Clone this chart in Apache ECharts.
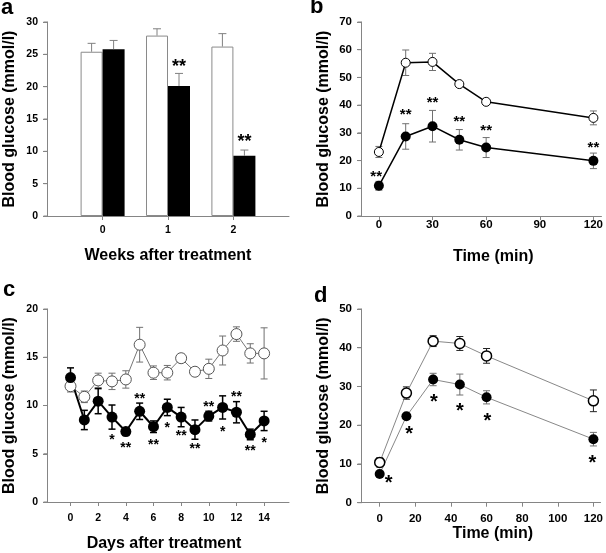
<!DOCTYPE html>
<html>
<head>
<meta charset="utf-8">
<script src="https://cdn.jsdelivr.net/npm/echarts@6/dist/echarts.min.js"></script>
<style>html,body{margin:0;padding:0;background:#fff}#c{width:606px;height:553px}</style>
</head>
<body>
<div id="c"></div>
<script>
// ---------- Panel a: bars ----------
const aWeeks = [0, 1, 2];
const aControl = [25.4, 27.9, 26.2];
const aControlErr = [1.3, 1.05, 2.0];
const aTreated = [25.8, 20.1, 9.3];
const aTreatedErr = [1.35, 1.95, 0.9];
const aStarX = [1.17, 2.17];
const aStarY = [23.6, 12.0];
const aStarText = ['**', '**'];

// ---------- Panel b ----------
const bTime = [0, 15, 30, 45, 60, 120];
const bControl = [23.1, 55.3, 55.6, 47.6, 41.2, 35.4];
const bControlErr = [2.0, 4.6, 3.1, 0, 0, 2.5];
const bTreated = [10.9, 28.7, 32.4, 27.5, 24.7, 19.9];
const bTreatedErr = [1.6, 4.6, 5.7, 3.7, 3.6, 2.8];
const bStarX = [-1.5, 15, 30, 45, 60, 120];
const bStarY = [15.4, 37.6, 42.1, 35.2, 31.9, 25.9];
const bStarText = ['**', '**', '**', '**', '**', '**'];

// ---------- Panel c ----------
const cDays = [0, 1, 2, 3, 4, 5, 6, 7, 8, 9, 10, 11, 12, 13, 14];
const cControl = [12.0, 10.9, 12.6, 12.5, 12.7, 16.3, 13.4, 13.4, 14.9, 13.5, 13.8, 15.7, 17.4, 15.4, 15.4];
const cControlErr = [0.6, 0.6, 0.75, 0.85, 0.9, 1.8, 0.7, 0.75, 0.4, 0.25, 1.0, 1.5, 0.75, 1.0, 2.65];
const cTreated = [12.9, 8.5, 10.45, 8.8, 7.3, 9.4, 7.8, 9.8, 8.8, 7.5, 8.9, 9.8, 9.3, 7.0, 8.4];
const cTreatedErr = [1.0, 1.0, 1.3, 1.25, 0.4, 0.85, 0.6, 0.85, 1.0, 1.0, 0.5, 1.2, 1.1, 0.55, 1.0];
const cStarX = [3, 4, 5, 6, 7, 8, 9, 10, 11, 12, 13, 14];
const cStarY = [6.7, 5.9, 11.0, 6.2, 8.0, 7.1, 5.8, 10.1, 7.6, 11.2, 5.6, 6.4];
const cStarText = ['*', '**', '**', '**', '*', '**', '**', '**', '*', '**', '**', '*'];

// ---------- Panel d ----------
const dTime = [0, 15, 30, 45, 60, 120];
const dControl = [10.4, 28.3, 41.7, 41.1, 37.9, 26.3];
const dControlErr = [1.2, 1.6, 1.4, 1.8, 1.9, 2.8];
const dTreated = [7.4, 22.3, 31.8, 30.5, 27.2, 16.4];
const dTreatedErr = [0, 0, 1.6, 2.7, 1.7, 1.75];
const dStarX = [5, 16.5, 30.5, 45, 60.5, 119.5];
const dStarY = [6.0, 18.8, 26.9, 24.6, 22.2, 11.2];
const dStarText = ['*', '*', '*', '*', '*', '*'];

// tick labels
const aTicks = [0, 1, 2];
const bTicks = [0, 30, 60, 90, 120];
const cTicks = [0, 2, 4, 6, 8, 10, 12, 14];
const dTicks = [0, 20, 40, 60, 80, 100, 120];
const aYTicks = [0, 5, 10, 15, 20, 25, 30];
const bYTicks = [0, 10, 20, 30, 40, 50, 60, 70];
const cYTicks = [0, 5, 10, 15, 20];
const dYTicks = [0, 10, 20, 30, 40, 50];

const FONT = "'Liberation Sans', Arial, Helvetica, sans-serif";
const AXIS_COLOR = '#858585';
const YNAME = 'Blood glucose (mmol/l)';

function xAxis(gi, min, max, ticks, name, fs, margin, gap, pad) {
  return {
    type: 'value', gridIndex: gi, min, max,
    name, nameLocation: 'middle', nameGap: gap, nameMoveOverlap: false,
    nameTextStyle: { fontFamily: FONT, fontWeight: 'bold', fontSize: 16, color: '#000', padding: pad || 0 },
    axisLine: { show: true, onZero: false, lineStyle: { color: AXIS_COLOR, width: 1 } },
    axisTick: { show: true, length: 4, lineStyle: { color: AXIS_COLOR }, customValues: ticks },
    axisLabel: { customValues: ticks, fontFamily: FONT, fontWeight: 'bold', fontSize: fs, color: '#000', margin },
    splitLine: { show: false }
  };
}
function yAxis(gi, max, interval, fs) {
  return {
    type: 'value', gridIndex: gi, min: 0, max, interval,
    name: YNAME, nameLocation: 'middle', nameGap: 29, nameRotate: 90, nameMoveOverlap: false,
    nameTextStyle: { fontFamily: FONT, fontWeight: 'bold', fontSize: 16, color: '#000' },
    axisLine: { show: true, onZero: false, lineStyle: { color: AXIS_COLOR, width: 1 } },
    axisTick: { show: true, length: 4, lineStyle: { color: AXIS_COLOR } },
    axisLabel: { fontFamily: FONT, fontWeight: 'bold', fontSize: fs, color: '#000', margin: 9 },
    splitLine: { show: false }
  };
}

// fallback drawing of the vertical axis line and its ticks at the left edge of the grid
function yAxisGuard(gi, yTicks) {
  return {
    type: 'custom', xAxisIndex: gi, yAxisIndex: gi, z: 1, silent: true, clip: false,
    data: yTicks.map(v => [0, v]),
    renderItem: (params, api) => {
      const cs = params.coordSys;
      const x = Math.round(cs.x) + 0.5;
      const py = api.coord([0, api.value(1)])[1];
      const style = { stroke: AXIS_COLOR, lineWidth: 1 };
      const children = [{ type: 'line', shape: { x1: x - 4, y1: py, x2: x, y2: py }, style }];
      if (params.dataIndex === 0) children.push({ type: 'line', shape: { x1: x, y1: cs.y, x2: x, y2: cs.y + cs.height }, style });
      return { type: 'group', children };
    }
  };
}

function errBars(gi, xs, mids, errs, o) {
  const data = [];
  xs.forEach((x, i) => { if (errs[i] > 0) data.push([x, o.upOnly ? mids[i] : mids[i] - errs[i], mids[i] + errs[i]]); });
  return {
    type: 'custom', xAxisIndex: gi, yAxisIndex: gi, z: 3, silent: true, data,
    renderItem: (params, api) => {
      const x = api.value(0);
      const lo = api.coord([x, api.value(1)]);
      const hi = api.coord([x, api.value(2)]);
      const cx = lo[0] + (o.dx || 0);
      const hw = o.cap / 2;
      const style = { stroke: o.color, lineWidth: o.width, fill: null };
      const children = [
        { type: 'line', shape: { x1: cx, y1: lo[1], x2: cx, y2: hi[1] }, style },
        { type: 'line', shape: { x1: cx - hw, y1: hi[1], x2: cx + hw, y2: hi[1] }, style }
      ];
      if (!o.upOnly) children.push({ type: 'line', shape: { x1: cx - hw, y1: lo[1], x2: cx + hw, y2: lo[1] }, style });
      return { type: 'group', children };
    }
  };
}

function stars(gi, xs, ys, texts, size) {
  return {
    type: 'custom', xAxisIndex: gi, yAxisIndex: gi, z: 6, silent: true,
    data: xs.map((x, i) => [x, ys[i], i]),
    renderItem: (params, api) => {
      const p = api.coord([api.value(0), api.value(1)]);
      return {
        type: 'text', x: p[0], y: p[1] + size * 0.22,
        style: { text: texts[api.value(2)], font: 'bold ' + size + 'px ' + FONT, align: 'center', verticalAlign: 'middle', fill: '#000' }
      };
    }
  };
}

function lineSeries(gi, xs, vals, o) {
  return {
    type: 'line', xAxisIndex: gi, yAxisIndex: gi, z: 4,
    data: xs.map((x, i) => [x, vals[i]]),
    symbol: 'circle', symbolSize: o.size,
    lineStyle: { color: o.lineColor, width: o.lineWidth },
    itemStyle: { color: o.fill, borderColor: o.border, borderWidth: o.borderWidth },
    emphasis: { disabled: true }
  };
}

const chart = echarts.init(document.getElementById('c'), null, { renderer: 'canvas' });
const titleStyle = { fontFamily: FONT, fontWeight: 'bold', fontSize: 22, color: '#000' };
chart.setOption({
  animation: false,
  backgroundColor: '#fff',
  title: [
    { text: 'a', left: 1, top: -3, padding: 0, textStyle: titleStyle },
    { text: 'b', left: 310, top: -4, padding: 0, textStyle: titleStyle },
    { text: 'c', left: 3, top: 279, padding: 0, textStyle: titleStyle },
    { text: 'd', left: 314, top: 285, padding: 0, textStyle: titleStyle }
  ],
  grid: [
    { left: 47, top: 22, width: 242, height: 194 },
    { left: 361, top: 22, width: 244, height: 194 },
    { left: 47, top: 309, width: 242, height: 193.5 },
    { left: 361, top: 309, width: 244, height: 193.7 }
  ],
  xAxis: [
    xAxis(0, -0.85, 2.85, aTicks, 'Weeks after treatment', 10.5, 9, 32),
    xAxis(1, -10, 124.5, bTicks, 'Time (min)', 11.5, 3, 33, [0, 0, 0, 24]),
    xAxis(2, -1.7, 15.8, cTicks, 'Days after treatment', 10.5, 11, 34, [0, 8, 0, 0]),
    xAxis(3, -10.5, 124, dTicks, 'Time (min)', 11.5, 10, 23, [0, 0, 0, 24])
  ],
  yAxis: [
    yAxis(0, 30, 5, 10.5),
    yAxis(1, 70, 10, 11.5),
    yAxis(2, 20, 5, 10.5),
    yAxis(3, 50, 10, 11.5)
  ],
  series: [
    yAxisGuard(0, aYTicks), yAxisGuard(1, bYTicks), yAxisGuard(2, cYTicks), yAxisGuard(3, dYTicks),
    // panel a
    { type: 'bar', xAxisIndex: 0, yAxisIndex: 0, data: aWeeks.map((w, i) => [w, aControl[i]]), barWidth: 22, barGap: '0%',
      itemStyle: { color: '#fff', borderColor: '#8a8a8a', borderWidth: 1 }, emphasis: { disabled: true } },
    { type: 'bar', xAxisIndex: 0, yAxisIndex: 0, data: aWeeks.map((w, i) => [w, aTreated[i]]), barWidth: 22, barGap: '0%',
      itemStyle: { color: '#000', borderColor: '#000', borderWidth: 0 }, emphasis: { disabled: true } },
    errBars(0, aWeeks, aControl, aControlErr, { upOnly: true, dx: -11, cap: 8, color: '#808080', width: 1 }),
    errBars(0, aWeeks, aTreated, aTreatedErr, { upOnly: true, dx: 11, cap: 8, color: '#808080', width: 1 }),
    stars(0, aStarX, aStarY, aStarText, 18),

    // panel b
    errBars(1, bTime, bControl, bControlErr, { cap: 7, color: '#707070', width: 1 }),
    errBars(1, bTime, bTreated, bTreatedErr, { cap: 7, color: '#707070', width: 1 }),
    lineSeries(1, bTime, bControl, { size: 9, lineColor: '#000', lineWidth: 1.5, fill: '#fff', border: '#000', borderWidth: 1 }),
    lineSeries(1, bTime, bTreated, { size: 10, lineColor: '#000', lineWidth: 1.5, fill: '#000', border: '#000', borderWidth: 0 }),
    stars(1, bStarX, bStarY, bStarText, 15),

    // panel c
    errBars(2, cDays, cControl, cControlErr, { cap: 7, color: '#707070', width: 1 }),
    errBars(2, cDays, cTreated, cTreatedErr, { cap: 7, color: '#000', width: 1.5 }),
    lineSeries(2, cDays, cControl, { size: 11, lineColor: '#777', lineWidth: 1, fill: '#fff', border: '#555', borderWidth: 1 }),
    lineSeries(2, cDays, cTreated, { size: 11, lineColor: '#000', lineWidth: 2, fill: '#000', border: '#000', borderWidth: 0 }),
    stars(2, cStarX, cStarY, cStarText, 14),

    // panel d
    errBars(3, dTime, dControl, dControlErr, { cap: 7, color: '#222', width: 1 }),
    errBars(3, dTime, dTreated, dTreatedErr, { cap: 7, color: '#707070', width: 1 }),
    lineSeries(3, dTime, dControl, { size: 10, lineColor: '#888', lineWidth: 1, fill: '#fff', border: '#000', borderWidth: 1.5 }),
    lineSeries(3, dTime, dTreated, { size: 10, lineColor: '#888', lineWidth: 1, fill: '#000', border: '#000', borderWidth: 0 }),
    stars(3, dStarX, dStarY, dStarText, 20)
  ]
});
</script>
</body>
</html>
